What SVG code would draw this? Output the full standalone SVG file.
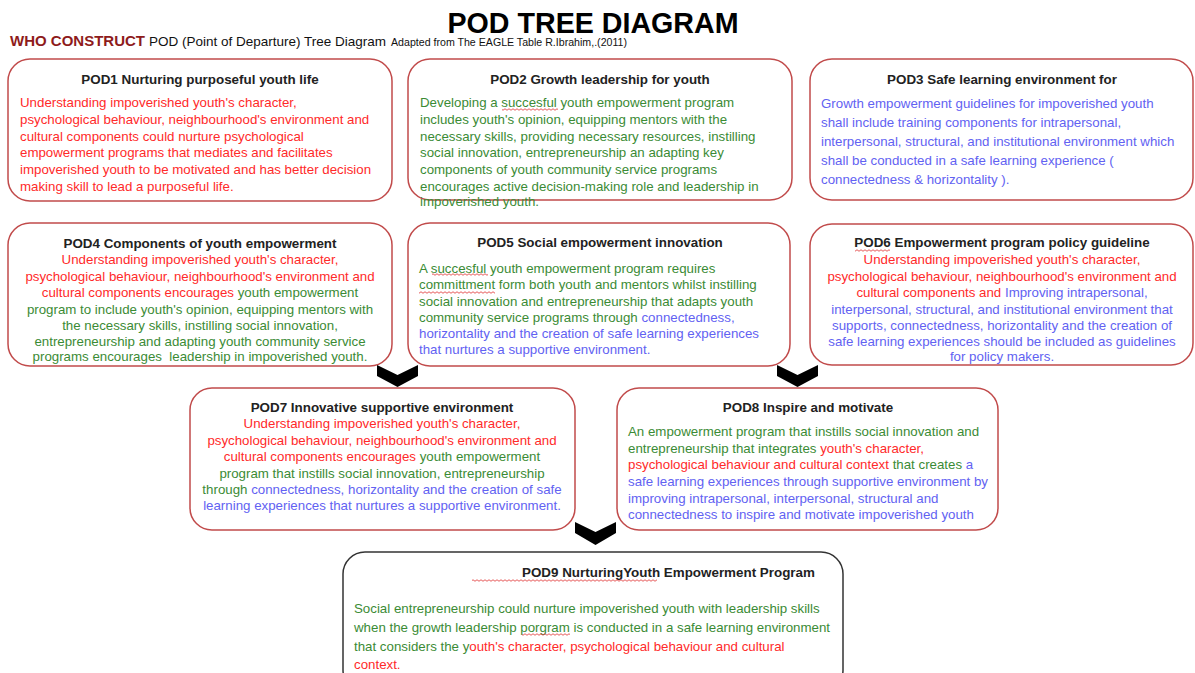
<svg xmlns="http://www.w3.org/2000/svg" width="1195" height="673" viewBox="0 0 1195 673">
<style>
text{font-family:"Liberation Sans",Arial,Helvetica,sans-serif;font-size:13.3px}
.box{fill:#fff;stroke:#c14b4b;stroke-width:1.5}
.box9{fill:#fff;stroke:#333;stroke-width:1.5}
.h{font-weight:bold;fill:#222;font-size:13.4px}
.c{text-anchor:middle}
.r{fill:#ff2a2a}
.g{fill:#3b8b35}
.b{fill:#6262f2}
.chev{fill:#000}
</style>
<defs>
<pattern id="sq" patternUnits="userSpaceOnUse" x="0" y="0" width="4" height="3">
<path d="M0 1.5 Q1 0 2 1.5 T4 1.5" fill="none" stroke="#e03030" stroke-width="0.8"/>
</pattern>
</defs>
<g id="header">
<text x="593" y="33" class="c" style="font-size:29px;font-weight:bold;fill:#000" textLength="291" lengthAdjust="spacingAndGlyphs">POD TREE DIAGRAM</text>
<text x="10" y="46" style="font-size:15px;font-weight:bold;fill:#8e1b1b" textLength="135" lengthAdjust="spacingAndGlyphs">WHO CONSTRUCT</text>
<text x="149" y="46" style="font-size:13.5px;fill:#111" textLength="237" lengthAdjust="spacingAndGlyphs">POD (Point of Departure) Tree Diagram</text>
<text x="391" y="46" style="font-size:10px;fill:#111" textLength="236" lengthAdjust="spacingAndGlyphs">Adapted from The EAGLE Table R.Ibrahim,.(2011)</text>
</g>
<g id="pod1">
<rect class="box" x="8" y="59" width="384" height="142" rx="22"/>
<text x="200" y="84" class="h c">POD1 Nurturing purposeful youth life</text>
<text class="r">
<tspan x="20" y="107">Understanding impoverished youth's character,</tspan>
<tspan x="20" y="124">psychological behaviour, neighbourhood's environment and</tspan>
<tspan x="20" y="141">cultural components could nurture psychological</tspan>
<tspan x="20" y="157">empowerment programs that mediates and facilitates</tspan>
<tspan x="20" y="174">impoverished youth to be motivated and has better decision</tspan>
<tspan x="20" y="191">making skill to lead a purposeful life.</tspan>
</text>
</g>
<g id="pod2">
<rect class="box" x="408" y="59" width="384" height="141" rx="22"/>
<text x="600" y="84" class="h c">POD2 Growth leadership for youth</text>
<text class="g">
<tspan x="420" y="107">Developing a succesful youth empowerment program</tspan>
<tspan x="420" y="124">includes youth's opinion, equipping mentors with the</tspan>
<tspan x="420" y="141">necessary skills, providing necessary resources, instilling</tspan>
<tspan x="420" y="157">social innovation, entrepreneurship an adapting key</tspan>
<tspan x="420" y="174">components of youth community service programs</tspan>
<tspan x="420" y="191">encourages active decision-making role and leadership in</tspan>
<tspan x="420" y="206">impoverished youth.</tspan>
</text>
<rect x="502" y="108" width="56" height="3" fill="url(#sq)"/>
</g>
<g id="pod3">
<rect class="box" x="810" y="59" width="383" height="141" rx="22"/>
<text x="1002" y="84" class="h c">POD3 Safe learning environment for</text>
<text class="b">
<tspan x="821" y="108">Growth empowerment guidelines for impoverished youth</tspan>
<tspan x="821" y="127">shall include training components for intrapersonal,</tspan>
<tspan x="821" y="146">interpersonal, structural, and institutional environment which</tspan>
<tspan x="821" y="165">shall be conducted in a safe learning experience (</tspan>
<tspan x="821" y="184">connectedness &amp; horizontality ).</tspan>
</text>
</g>
<g id="pod4">
<rect class="box" x="8" y="223" width="384" height="143" rx="22"/>
<text x="200" y="248" class="h c">POD4 Components of youth empowerment</text>
<text class="c r" xml:space="preserve"><tspan x="200" y="264">Understanding impoverished youth's character,</tspan><tspan x="200" y="281">psychological behaviour, neighbourhood's environment and</tspan><tspan x="200" y="297">cultural components encourages <tspan class="g">youth empowerment</tspan></tspan><tspan x="200" y="314" class="g">program to include youth's opinion, equipping mentors with</tspan><tspan x="200" y="330" class="g">the necessary skills, instilling social innovation,</tspan><tspan x="200" y="346" class="g">entrepreneurship and adapting youth community service</tspan><tspan x="200" y="361" class="g">programs encourages  leadership in impoverished youth.</tspan></text>
</g>
<g id="pod5">
<rect class="box" x="408" y="223" width="382" height="143" rx="22"/>
<text x="600" y="247" class="h c">POD5 Social empowerment innovation</text>
<text class="g">
<tspan x="419" y="273">A succesful youth empowerment program requires</tspan>
<tspan x="419" y="289">committment form both youth and mentors whilst instilling</tspan>
<tspan x="419" y="306">social innovation and entrepreneurship that adapts youth</tspan>
<tspan x="419" y="322">community service programs through <tspan class="b">connectedness,</tspan></tspan>
<tspan x="419" y="338" class="b">horizontality and the creation of safe learning experiences</tspan>
<tspan x="419" y="354" class="b">that nurtures a supportive environment.</tspan>
</text>
<rect x="432" y="273" width="56" height="3" fill="url(#sq)"/>
<rect x="419" y="291" width="76" height="3" fill="url(#sq)"/>
</g>
<g id="pod6">
<rect class="box" x="810" y="224" width="383" height="141" rx="22"/>
<text x="1002" y="247" class="h c">POD6 Empowerment program policy guideline</text>
<text class="c r" xml:space="preserve"><tspan x="1002" y="264">Understanding impoverished youth's character,</tspan><tspan x="1002" y="281">psychological behaviour, neighbourhood's environment and</tspan><tspan x="1002" y="297">cultural components and <tspan class="b">Improving intrapersonal,</tspan></tspan><tspan x="1002" y="314" class="b">interpersonal, structural, and institutional environment that</tspan><tspan x="1002" y="330" class="b">supports, connectedness, horizontality and the creation of</tspan><tspan x="1002" y="346" class="b">safe learning experiences should be included as guidelines</tspan><tspan x="1002" y="361" class="b">for policy makers.</tspan></text>
<rect x="855" y="249" width="35" height="3" fill="url(#sq)"/>
</g>
<g id="pod7">
<rect class="box" x="190" y="388" width="385" height="142" rx="22"/>
<text x="382" y="412" class="h c">POD7 Innovative supportive environment</text>
<text class="c r" xml:space="preserve"><tspan x="382" y="428">Understanding impoverished youth's character,</tspan><tspan x="382" y="445">psychological behaviour, neighbourhood's environment and</tspan><tspan x="382" y="461">cultural components encourages <tspan class="g">youth empowerment</tspan></tspan><tspan x="382" y="478" class="g">program that instills social innovation, entrepreneurship</tspan><tspan x="382" y="494" class="g">through <tspan class="b">connectedness, horizontality and the creation of safe</tspan></tspan><tspan x="382" y="510" class="b">learning experiences that nurtures a supportive environment.</tspan></text>
</g>
<g id="pod8">
<rect class="box" x="617" y="388" width="381" height="142" rx="22"/>
<text x="808" y="412" class="h c">POD8 Inspire and motivate</text>
<text class="g">
<tspan x="628" y="436">An empowerment program that instills social innovation and</tspan>
<tspan x="628" y="453">entrepreneurship that integrates <tspan class="r">youth's character,</tspan></tspan>
<tspan x="628" y="469" class="r">psychological behaviour and cultural context <tspan class="g">that creates <tspan class="b">a</tspan></tspan></tspan>
<tspan x="628" y="486" class="b">safe learning experiences through supportive environment by</tspan>
<tspan x="628" y="503" class="b">improving intrapersonal, interpersonal, structural and</tspan>
<tspan x="628" y="519" class="b">connectedness to inspire and motivate impoverished youth</tspan>
</text>
</g>
<g id="pod9">
<rect class="box9" x="343" y="552" width="500" height="140" rx="22"/>
<text x="522" y="577" class="h">POD9 NurturingYouth Empowerment Program</text>
<rect x="472" y="579" width="185" height="3" fill="url(#sq)"/>
<text class="g">
<tspan x="354" y="613">Social entrepreneurship could nurture impoverished youth with leadership skills</tspan>
<tspan x="354" y="632">when the growth leadership porgram is conducted in a safe learning environment</tspan>
<tspan x="354" y="651">that considers the y<tspan class="r">outh's character, psychological behaviour and cultural</tspan></tspan>
<tspan x="354" y="669" class="r">context.</tspan>
</text>
<rect x="522" y="633" width="48" height="3" fill="url(#sq)"/>
</g>
<g id="connectors">
<polygon class="chev" points="377,365 397.5,375 418,365 418,376 397.5,387 377,376"/>
<polygon class="chev" points="777,365 797.5,375 818,365 818,376 797.5,387 777,376"/>
<polygon class="chev" points="575,522 595.5,532 616,522 616,533 595.5,545 575,533"/>
</g>
</svg>
